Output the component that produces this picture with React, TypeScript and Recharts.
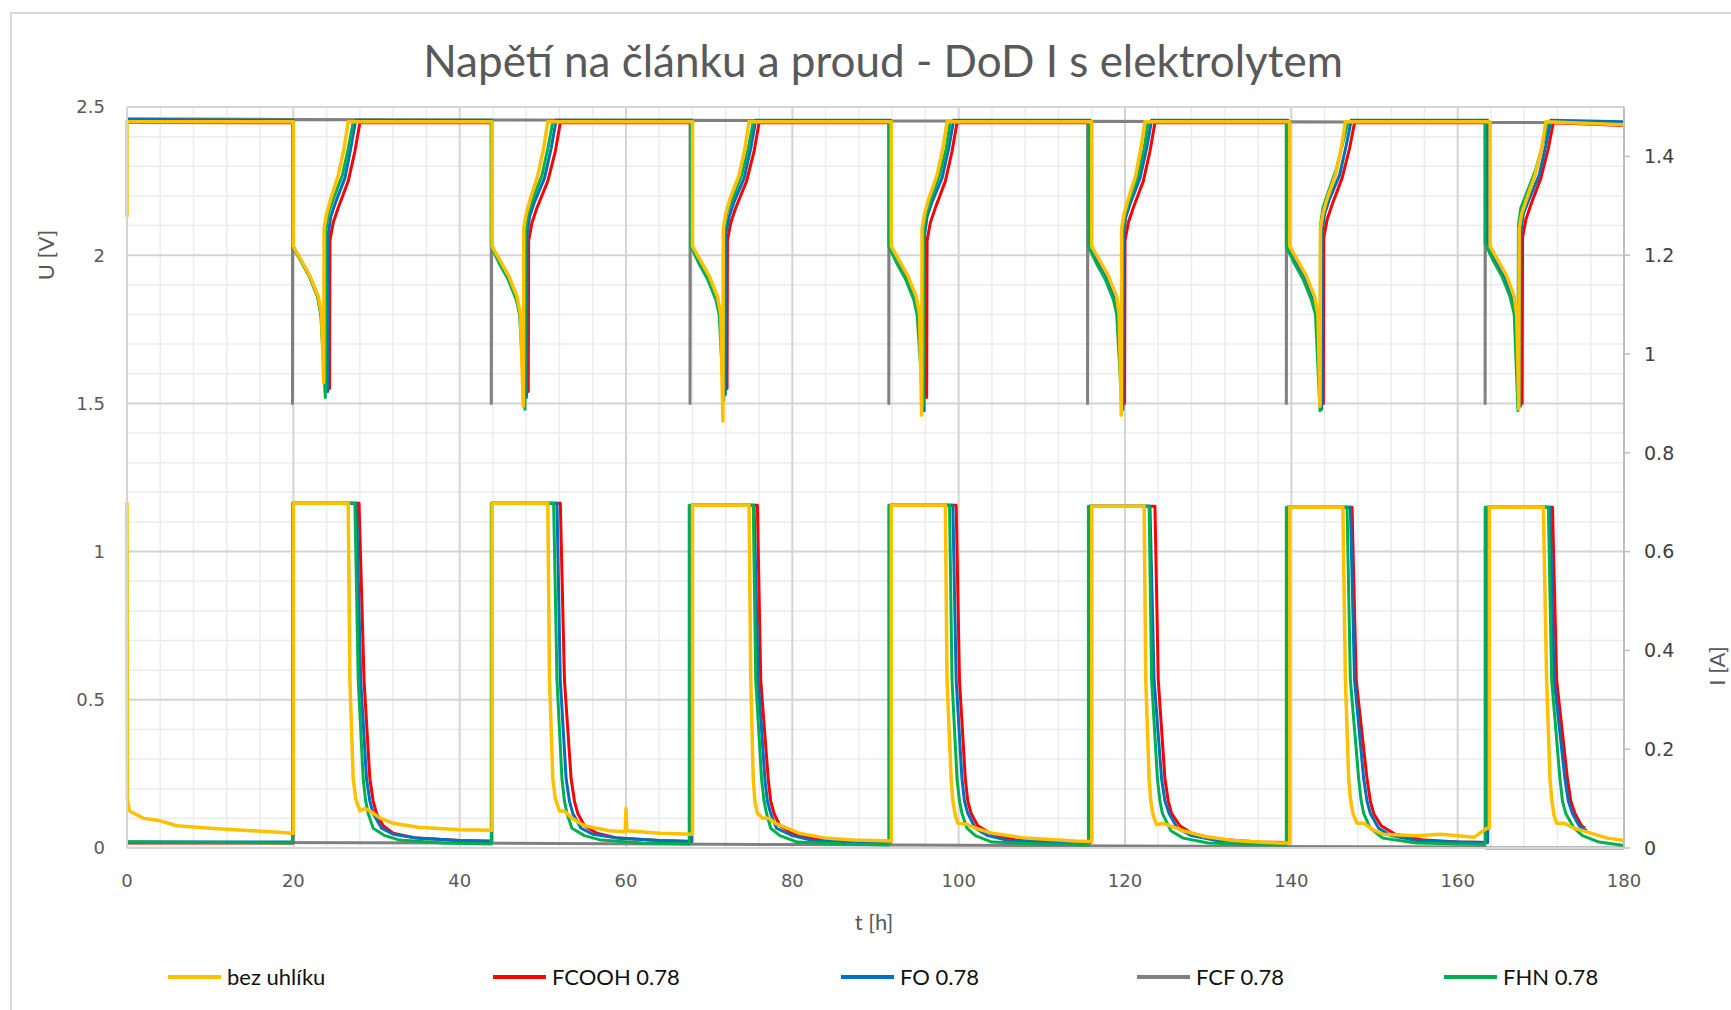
import React from "react";
import { LineChart, Line, XAxis, YAxis, ReferenceLine } from "recharts";

type Pt = [number, number];

const YELLOW = "#FFC000";
const RED = "#FF0000";
const BLUE = "#0070C0";
const GREY = "#808080";
const GREEN = "#00B050";
const MAJOR = "#d4d4d4";
const MINOR = "#ececec";
const AXIS_TXT = "#595959";

const X_TICKS = [0, 20, 40, 60, 80, 100, 120, 140, 160, 180];
const X_MINOR = [4, 8, 12, 16, 24, 28, 32, 36, 44, 48, 52, 56, 64, 68, 72, 76, 84, 88, 92, 96, 104, 108, 112, 116, 124, 128, 132, 136, 144, 148, 152, 156, 164, 168, 172, 176];
const U_TICKS = [0, 0.5, 1, 1.5, 2, 2.5];
const U_MINOR = [0.1, 0.2, 0.3, 0.4, 0.6, 0.7, 0.8, 0.9, 1.1, 1.2, 1.3, 1.4, 1.6, 1.7, 1.8, 1.9, 2.1, 2.2, 2.3, 2.4];
const I_TICKS = [0, 0.2, 0.4, 0.6, 0.8, 1, 1.2, 1.4];

// napeti [t h, U V]
const BEZ_U: Pt[] = [
  [0, 2.13], [0, 2.45],
  [20.0, 2.45], [20.0, 2.03], [21.0, 1.98], [22.0, 1.93], [23.0, 1.86], [23.4, 1.8], [23.65, 1.57], [23.7, 2.09], [24.0, 2.14], [24.5, 2.19], [25.4, 2.27], [26.1, 2.36], [26.6, 2.45],
  [43.9, 2.45], [43.9, 2.03], [44.9, 1.98], [45.9, 1.93], [46.9, 1.86], [47.3, 1.8], [47.65, 1.49], [47.7, 2.09], [48.0, 2.14], [48.5, 2.19], [49.4, 2.27], [50.1, 2.36], [50.6, 2.45],
  [68.0, 2.45], [68.0, 2.03], [69.0, 1.98], [70.0, 1.93], [71.0, 1.86], [71.4, 1.8], [71.65, 1.44], [71.7, 2.09], [72.0, 2.14], [72.5, 2.19], [73.6, 2.27], [74.3, 2.36], [74.8, 2.45],
  [91.9, 2.45], [91.9, 2.03], [92.9, 1.98], [93.9, 1.93], [94.9, 1.86], [95.3, 1.8], [95.55, 1.46], [95.6, 2.09], [95.9, 2.14], [96.4, 2.19], [97.4, 2.27], [98.1, 2.36], [98.6, 2.45],
  [116.0, 2.45], [116.0, 2.03], [117.0, 1.98], [118.0, 1.93], [119.0, 1.86], [119.3, 1.8], [119.55, 1.46], [119.6, 2.09], [119.9, 2.14], [120.4, 2.19], [121.3, 2.27], [121.9, 2.36], [122.4, 2.45],
  [139.8, 2.45], [139.8, 2.03], [140.8, 1.98], [141.8, 1.93], [142.8, 1.86], [143.2, 1.8], [143.45, 1.49], [143.5, 2.09], [143.8, 2.14], [144.3, 2.19], [145.3, 2.27], [146.0, 2.36], [146.5, 2.45],
  [163.9, 2.45], [163.9, 2.03], [164.9, 1.98], [165.9, 1.93], [166.8, 1.86], [167.1, 1.8], [167.35, 1.48], [167.4, 2.09], [167.7, 2.14], [168.3, 2.19], [169.3, 2.27], [170.1, 2.36], [170.6, 2.45],
  [180, 2.44],
];

const FCOOH_U: Pt[] = [
  [0, 2.448],
  [19.95, 2.447], [19.95, 2.03], [20.95, 1.98], [21.95, 1.93], [22.95, 1.86], [23.35, 1.8], [24.35, 1.55], [24.4, 2.05], [24.8, 2.11], [25.4, 2.16], [26.6, 2.25], [27.4, 2.35], [28.0, 2.447],
  [43.85, 2.447], [43.85, 2.03], [44.85, 1.98], [45.85, 1.93], [46.85, 1.86], [47.25, 1.8], [48.25, 1.54], [48.3, 2.05], [48.7, 2.11], [49.3, 2.16], [50.6, 2.25], [51.5, 2.35], [52.1, 2.447],
  [67.9, 2.447], [67.9, 2.03], [68.9, 1.98], [69.9, 1.93], [70.9, 1.86], [71.3, 1.8], [72.15, 1.55], [72.2, 2.05], [72.6, 2.11], [73.2, 2.16], [74.5, 2.25], [75.4, 2.35], [76.0, 2.447],
  [91.8, 2.447], [91.8, 2.03], [92.8, 1.98], [93.8, 1.93], [94.8, 1.86], [95.2, 1.8], [96.15, 1.52], [96.2, 2.05], [96.6, 2.11], [97.2, 2.16], [98.4, 2.25], [99.2, 2.35], [99.8, 2.447],
  [115.8, 2.447], [115.8, 2.03], [116.8, 1.98], [117.8, 1.93], [118.8, 1.86], [119.2, 1.8], [119.95, 1.5], [120.0, 2.05], [120.4, 2.11], [121.0, 2.16], [122.2, 2.25], [123.0, 2.35], [123.6, 2.447],
  [139.6, 2.447], [139.6, 2.03], [140.6, 1.98], [141.6, 1.93], [142.6, 1.86], [143.0, 1.8], [143.85, 1.5], [143.9, 2.06], [144.3, 2.12], [144.9, 2.17], [146.1, 2.26], [147.0, 2.36], [147.6, 2.447],
  [163.6, 2.447], [163.6, 2.03], [164.6, 1.98], [165.6, 1.93], [166.6, 1.86], [167.0, 1.8], [167.75, 1.5], [167.8, 2.06], [168.2, 2.12], [168.8, 2.17], [170.0, 2.26], [170.9, 2.36], [171.5, 2.447],
  [180, 2.438],
];

const FO_U: Pt[] = [
  [0, 2.458],
  [19.95, 2.455], [19.95, 2.03], [20.95, 1.98], [21.95, 1.93], [22.95, 1.86], [23.35, 1.8], [24.15, 1.54], [24.2, 2.07], [24.5, 2.13], [25.1, 2.18], [26.2, 2.26], [26.9, 2.36], [27.5, 2.455],
  [43.85, 2.455], [43.85, 2.03], [44.85, 1.98], [45.85, 1.93], [46.85, 1.86], [47.25, 1.8], [48.05, 1.52], [48.1, 2.07], [48.4, 2.13], [49.0, 2.18], [50.2, 2.26], [51.0, 2.36], [51.6, 2.455],
  [67.9, 2.455], [67.9, 2.03], [68.9, 1.98], [69.9, 1.93], [70.9, 1.86], [71.3, 1.8], [71.95, 1.53], [72.0, 2.07], [72.4, 2.13], [73.0, 2.18], [74.2, 2.26], [75.0, 2.36], [75.6, 2.455],
  [91.8, 2.455], [91.8, 2.03], [92.8, 1.98], [93.8, 1.93], [94.8, 1.86], [95.2, 1.8], [95.85, 1.475], [95.9, 2.07], [96.2, 2.13], [96.8, 2.18], [98.0, 2.26], [98.8, 2.36], [99.4, 2.455],
  [115.8, 2.455], [115.8, 2.03], [116.8, 1.98], [117.8, 1.93], [118.8, 1.86], [119.2, 1.8], [119.75, 1.48], [119.8, 2.07], [120.1, 2.13], [120.7, 2.18], [121.8, 2.26], [122.6, 2.36], [123.2, 2.455],
  [139.6, 2.455], [139.6, 2.03], [140.6, 1.98], [141.6, 1.93], [142.6, 1.86], [143.0, 1.8], [143.65, 1.48], [143.7, 2.08], [144.0, 2.14], [144.6, 2.19], [145.8, 2.27], [146.6, 2.37], [147.2, 2.455],
  [163.6, 2.455], [163.6, 2.03], [164.6, 1.98], [165.6, 1.93], [166.6, 1.86], [167.0, 1.8], [167.55, 1.49], [167.6, 2.08], [167.9, 2.14], [168.6, 2.19], [169.8, 2.27], [170.6, 2.37], [171.2, 2.455],
  [180, 2.45],
];

const FCF_U: Pt[] = [
  [0, 2.46], [19.9, 2.458], [19.9, 1.5], [19.95, 2.458],
  [43.8, 2.456], [43.8, 1.5], [43.85, 2.456],
  [67.7, 2.455], [67.7, 1.5], [67.75, 2.455],
  [91.6, 2.453], [91.6, 1.5], [91.65, 2.453],
  [115.5, 2.452], [115.5, 1.5], [115.55, 2.452],
  [139.4, 2.45], [139.4, 1.5], [139.45, 2.45],
  [163.3, 2.448], [163.3, 1.5], [163.35, 2.448],
  [180, 2.446],
];

const FHN_U: Pt[] = [
  [0, 2.45],
  [19.9, 2.45], [19.9, 2.03], [20.9, 1.98], [21.9, 1.93], [22.9, 1.86], [23.3, 1.8], [23.85, 1.52], [23.9, 2.08], [24.2, 2.14], [24.8, 2.19], [25.9, 2.27], [26.6, 2.36], [27.2, 2.45],
  [43.8, 2.45], [43.8, 2.03], [44.8, 1.97], [45.8, 1.92], [46.8, 1.85], [47.2, 1.8], [47.85, 1.48], [47.9, 2.08], [48.2, 2.14], [48.8, 2.19], [49.9, 2.27], [50.6, 2.36], [51.2, 2.45],
  [67.8, 2.45], [67.8, 2.03], [68.8, 1.97], [69.8, 1.92], [70.8, 1.85], [71.2, 1.8], [71.75, 1.51], [71.8, 2.08], [72.1, 2.14], [72.8, 2.19], [73.9, 2.27], [74.7, 2.36], [75.3, 2.45],
  [91.6, 2.45], [91.6, 2.03], [92.6, 1.97], [93.6, 1.92], [94.6, 1.85], [95.0, 1.8], [95.75, 1.49], [95.8, 2.08], [96.1, 2.14], [96.7, 2.19], [97.7, 2.27], [98.5, 2.36], [99.0, 2.45],
  [115.6, 2.45], [115.6, 2.03], [116.6, 1.97], [117.6, 1.92], [118.6, 1.85], [119.0, 1.8], [119.65, 1.475], [119.7, 2.08], [120.0, 2.14], [120.6, 2.19], [121.6, 2.27], [122.3, 2.36], [122.8, 2.45],
  [139.4, 2.45], [139.4, 2.03], [140.4, 1.97], [141.4, 1.92], [142.4, 1.85], [142.9, 1.8], [143.45, 1.475], [143.5, 2.1], [143.8, 2.16], [144.4, 2.21], [145.4, 2.29], [146.2, 2.38], [146.8, 2.45],
  [163.3, 2.45], [163.3, 2.04], [164.3, 1.98], [165.3, 1.93], [166.3, 1.86], [166.8, 1.8], [167.25, 1.475], [167.3, 2.1], [167.6, 2.16], [168.3, 2.21], [169.4, 2.29], [170.3, 2.38], [170.9, 2.45],
  [180, 2.44],
];

// proud [t h, I A]
const BEZ_I: Pt[] = [
  [0, 0.7], [0.05, 0.1], [0.3, 0.075], [2, 0.06], [4, 0.055], [6, 0.045], [10, 0.04], [15, 0.035], [20.0, 0.03],
  [20.0, 0.698], [26.6, 0.698], [26.8, 0.34], [27.2, 0.14], [27.5, 0.1], [28.0, 0.075], [28.6, 0.08], [29.2, 0.075], [30.5, 0.06], [32, 0.05], [35, 0.042], [40, 0.037], [43.9, 0.036],
  [43.9, 0.698], [50.6, 0.698], [50.8, 0.34], [51.2, 0.14], [51.5, 0.1], [52.0, 0.075], [52.6, 0.075], [53.5, 0.06], [55, 0.045], [58, 0.035], [59.9, 0.033], [60, 0.08], [60.1, 0.035], [64, 0.03], [68.0, 0.028],
  [68.0, 0.694], [74.8, 0.694], [75.0, 0.34], [75.3, 0.14], [75.5, 0.095], [75.8, 0.07], [76.5, 0.06], [77.2, 0.06], [78, 0.05], [80.8, 0.03], [84, 0.02], [87.3, 0.016], [91.9, 0.014],
  [91.9, 0.694], [98.4, 0.694], [98.6, 0.34], [99.1, 0.14], [99.3, 0.095], [99.6, 0.065], [99.9, 0.05], [101, 0.048], [102, 0.04], [104, 0.03], [108, 0.02], [114, 0.014], [116.0, 0.013],
  [116.0, 0.692], [122.3, 0.692], [122.5, 0.34], [122.9, 0.14], [123.1, 0.095], [123.4, 0.065], [123.8, 0.047], [124.6, 0.05], [125.4, 0.045], [127, 0.035], [129.4, 0.024], [133, 0.015], [138.6, 0.01], [139.8, 0.01],
  [139.8, 0.69], [146.2, 0.69], [146.5, 0.34], [146.9, 0.14], [147.1, 0.1], [147.4, 0.07], [147.9, 0.05], [148.7, 0.05], [150, 0.035], [151, 0.028], [155, 0.025], [158, 0.028], [162, 0.022], [163.5, 0.04], [163.8, 0.04],
  [163.8, 0.69], [170.3, 0.69], [170.7, 0.34], [171.1, 0.14], [171.3, 0.1], [171.6, 0.065], [171.9, 0.05], [172.8, 0.05], [174, 0.04], [176, 0.03], [178, 0.02], [180, 0.015],
];

const FCOOH_I: Pt[] = [
  [0, 0.01], [19.95, 0.01],
  [19.95, 0.698], [27.9, 0.698], [28.5, 0.34], [29.2, 0.14], [29.6, 0.095], [30.0, 0.07], [30.8, 0.045], [32, 0.03], [34.8, 0.02], [40, 0.015], [43.85, 0.013],
  [43.85, 0.698], [52.1, 0.698], [52.6, 0.34], [53.4, 0.14], [53.8, 0.095], [54.2, 0.07], [55, 0.045], [56.5, 0.03], [59, 0.02], [64, 0.015], [67.9, 0.013],
  [67.9, 0.694], [75.8, 0.694], [76.2, 0.34], [77.1, 0.14], [77.4, 0.095], [77.8, 0.07], [78.5, 0.045], [80, 0.03], [83, 0.018], [88, 0.013], [91.8, 0.012],
  [91.8, 0.694], [99.7, 0.694], [100.1, 0.34], [100.8, 0.14], [101.1, 0.095], [101.5, 0.07], [102.3, 0.045], [104, 0.028], [107, 0.016], [112, 0.012], [115.8, 0.011],
  [115.8, 0.692], [123.6, 0.692], [124.0, 0.34], [124.8, 0.14], [125.2, 0.095], [125.6, 0.07], [126.6, 0.045], [128, 0.03], [131, 0.018], [136, 0.012], [139.6, 0.011],
  [139.6, 0.69], [147.3, 0.69], [147.8, 0.34], [149.1, 0.14], [149.5, 0.095], [149.9, 0.07], [150.8, 0.045], [152.5, 0.028], [156, 0.016], [160, 0.012], [163.6, 0.011],
  [163.6, 0.69], [171.4, 0.69], [171.9, 0.34], [173.2, 0.14], [173.6, 0.095], [174.1, 0.07], [174.9, 0.045], [175.3, 0.04],
];

const FO_I: Pt[] = [
  [0, 0.012], [19.95, 0.012],
  [19.95, 0.698], [27.6, 0.698], [28.1, 0.34], [28.8, 0.14], [29.2, 0.095], [29.6, 0.07], [30.6, 0.04], [32, 0.028], [34.8, 0.02], [40, 0.015], [43.85, 0.014],
  [43.85, 0.698], [51.7, 0.698], [52.1, 0.34], [52.8, 0.14], [53.2, 0.095], [53.6, 0.07], [54.6, 0.04], [56, 0.028], [59, 0.02], [64, 0.015], [67.9, 0.013],
  [67.9, 0.694], [75.4, 0.694], [75.9, 0.34], [76.7, 0.14], [77.0, 0.095], [77.4, 0.07], [78.1, 0.04], [80, 0.025], [82.5, 0.015], [88, 0.012], [91.8, 0.011],
  [91.8, 0.694], [99.3, 0.694], [99.7, 0.34], [100.4, 0.14], [100.7, 0.095], [101.1, 0.07], [102, 0.04], [103.5, 0.025], [106, 0.015], [112, 0.011], [115.8, 0.01],
  [115.8, 0.692], [123.0, 0.692], [123.5, 0.34], [124.4, 0.14], [124.8, 0.095], [125.3, 0.07], [126.3, 0.04], [128, 0.025], [131, 0.015], [136, 0.01], [139.6, 0.01],
  [139.6, 0.69], [147.1, 0.69], [147.6, 0.34], [148.7, 0.14], [149.1, 0.095], [149.5, 0.07], [150.5, 0.04], [152, 0.025], [155, 0.015], [160, 0.012], [163.6, 0.011],
  [163.6, 0.69], [171.1, 0.69], [171.6, 0.34], [172.9, 0.14], [173.3, 0.095], [173.8, 0.07], [174.6, 0.045], [175.5, 0.035],
];

const FCF_I: Pt[] = [
  [0, 0.012], [40, 0.01], [80, 0.007], [120, 0.004], [163.3, 0.002], [163.4, 0], [180, 0],
];

const FHN_I: Pt[] = [
  [0, 0.012], [19.9, 0.01],
  [19.9, 0.698], [27.4, 0.698], [27.8, 0.34], [28.4, 0.14], [28.7, 0.095], [29.0, 0.07], [29.6, 0.04], [31, 0.025], [32.8, 0.016], [38, 0.01], [43.8, 0.008],
  [43.8, 0.698], [51.3, 0.698], [51.7, 0.34], [52.3, 0.14], [52.6, 0.095], [52.9, 0.07], [53.5, 0.04], [55, 0.025], [57, 0.016], [62, 0.01], [67.6, 0.008],
  [67.6, 0.694], [75.3, 0.694], [75.6, 0.34], [76.3, 0.14], [76.6, 0.095], [76.9, 0.07], [77.4, 0.04], [78.5, 0.025], [80.6, 0.012], [86, 0.008], [91.6, 0.006],
  [91.6, 0.694], [98.9, 0.694], [99.2, 0.34], [99.8, 0.14], [100.1, 0.095], [100.4, 0.07], [101, 0.04], [102, 0.025], [104, 0.012], [110, 0.008], [115.6, 0.006],
  [115.6, 0.692], [122.9, 0.692], [123.2, 0.34], [123.9, 0.14], [124.2, 0.095], [124.5, 0.07], [125.5, 0.035], [127, 0.02], [130, 0.01], [135, 0.007], [139.4, 0.006],
  [139.4, 0.69], [146.7, 0.69], [147.1, 0.34], [148.1, 0.14], [148.4, 0.095], [148.7, 0.07], [149.5, 0.04], [151, 0.02], [155, 0.01], [163.3, 0.007],
  [163.3, 0.69], [170.9, 0.69], [171.3, 0.34], [172.3, 0.14], [172.6, 0.095], [173, 0.07], [174, 0.04], [175, 0.025], [177, 0.012], [180, 0.005],
];

const SERIES = [
  { name: "bez uhlíku", color: YELLOW, u: BEZ_U, i: BEZ_I },
  { name: "FCOOH 0.78", color: RED, u: FCOOH_U, i: FCOOH_I },
  { name: "FO 0.78", color: BLUE, u: FO_U, i: FO_I },
  { name: "FCF 0.78", color: GREY, u: FCF_U, i: FCF_I },
  { name: "FHN 0.78", color: GREEN, u: FHN_U, i: FHN_I },
];

// drawing order: grey at the back, yellow on top
const DRAW_ORDER = [3, 1, 2, 4, 0];
const LEGEND_X = [168, 493, 841, 1137, 1444];

const toRows = (pts: Pt[]) => pts.map(([t, v]) => ({ t, v }));

const tickStyle = { fontSize: 18, fill: AXIS_TXT, fontFamily: "'DejaVu Sans', sans-serif" };
const labelFont = "Lato, 'Open Sans', sans-serif";

export default function App() {
  return (
    <div style={{ position: "absolute", left: 0, top: 0, width: 1731, height: 1010, background: "#fff", overflow: "hidden" }}>
      <LineChart width={1731} height={1010} margin={{ top: 107, right: 47, left: 67, bottom: 102 }}>
        <XAxis
          type="number" dataKey="t" domain={[0, 180]} ticks={X_TICKS} interval={0}
          tick={tickStyle} tickLine={false} tickMargin={20} height={60}
          axisLine={{ stroke: MAJOR, strokeWidth: 2 }}
        />
        <YAxis
          yAxisId="U" type="number" domain={[0, 2.5]} ticks={U_TICKS} interval={0}
          tick={tickStyle} tickLine={false} tickMargin={16} width={60}
          axisLine={{ stroke: MAJOR, strokeWidth: 2 }}
        />
        <YAxis
          yAxisId="I" orientation="right" type="number" domain={[0, 1.5]} ticks={I_TICKS} interval={0}
          tick={{ ...tickStyle, fontSize: 19, fill: "#404040" }} tickSize={6} tickMargin={14} width={60}
          tickLine={{ stroke: "#bfbfbf", strokeWidth: 1.5 }} axisLine={{ stroke: "#bfbfbf", strokeWidth: 2 }}
        />

        {X_MINOR.map((x) => (
          <ReferenceLine key={"xm" + x} x={x} yAxisId="U" stroke={MINOR} strokeWidth={1.5} />
        ))}
        {U_MINOR.map((y) => (
          <ReferenceLine key={"ym" + y} y={y} yAxisId="U" stroke={MINOR} strokeWidth={1.5} />
        ))}
        {X_TICKS.map((x) => (
          <ReferenceLine key={"xM" + x} x={x} yAxisId="U" stroke={MAJOR} strokeWidth={2} />
        ))}
        {U_TICKS.map((y) => (
          <ReferenceLine key={"yM" + y} y={y} yAxisId="U" stroke={MAJOR} strokeWidth={2} />
        ))}

        {DRAW_ORDER.flatMap((k) => {
          const s = SERIES[k];
          const w = k === 0 ? 3.5 : 3;
          return [
            <Line key={s.name + "-i"} yAxisId="I" data={toRows(s.i)} dataKey="v" type="linear"
              stroke={s.color} strokeWidth={w} dot={false} activeDot={false}
              isAnimationActive={false} strokeLinejoin="round" />,
            <Line key={s.name + "-u"} yAxisId="U" data={toRows(s.u)} dataKey="v" type="linear"
              stroke={s.color} strokeWidth={w} dot={false} activeDot={false}
              isAnimationActive={false} strokeLinejoin="round" />,
          ];
        })}
      </LineChart>

      <svg width={1731} height={1010} style={{ position: "absolute", left: 0, top: 0, pointerEvents: "none" }}>
        <rect x={11} y={13} width={1740} height={1020} fill="none" stroke="#d9d9d9" strokeWidth={2} />
        <text x={883} y={77} textAnchor="middle" fontFamily={labelFont} fontSize={44} fill={AXIS_TXT}>
          Napětí na článku a proud - DoD I s elektrolytem
        </text>
        <text x={874} y={930} textAnchor="middle" fontFamily={labelFont} fontSize={22} fill={AXIS_TXT}>t [h]</text>
        <text transform="translate(54,255) rotate(-90)" textAnchor="middle" fontFamily={labelFont} fontSize={22} fill={AXIS_TXT}>U [V]</text>
        <text transform="translate(1725,666) rotate(-90)" textAnchor="middle" fontFamily={labelFont} fontSize={22} fill={AXIS_TXT}>I [A]</text>
        {SERIES.map((s, k) => (
          <g key={s.name}>
            <line x1={LEGEND_X[k]} x2={LEGEND_X[k] + 53} y1={977} y2={977} stroke={s.color} strokeWidth={4} />
            <text x={LEGEND_X[k] + 59} y={985} fontFamily={labelFont} fontSize={22} fill="#111">{s.name}</text>
          </g>
        ))}
      </svg>
    </div>
  );
}
